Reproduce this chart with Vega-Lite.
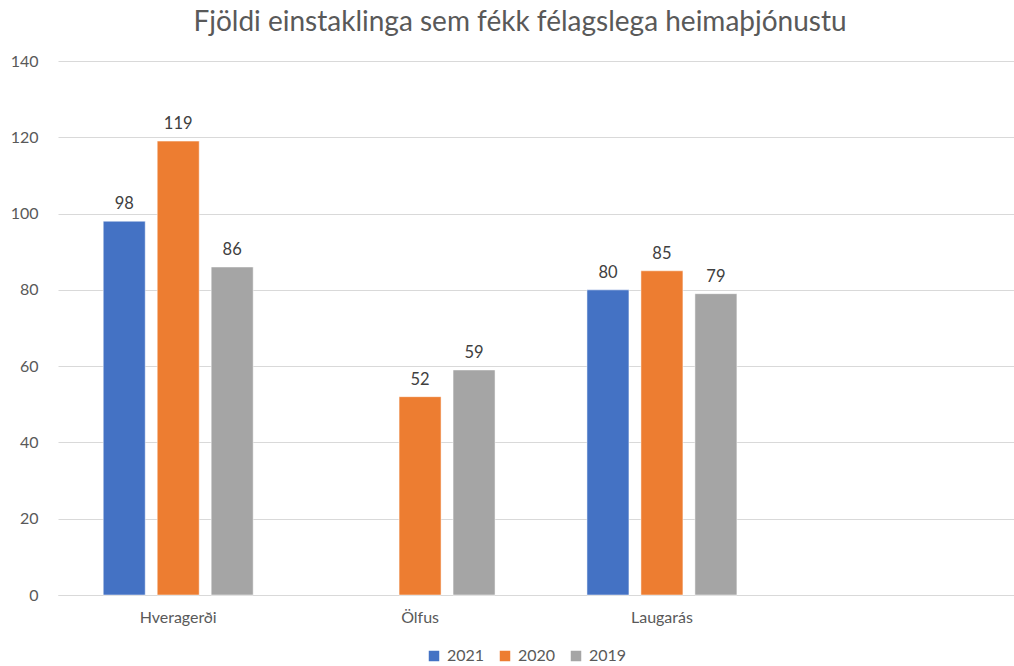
{
  "$schema": "https://vega.github.io/schema/vega-lite/v6.json",
  "autosize": "none",
  "width": 956,
  "height": 534,
  "padding": {"left": 58, "top": 61, "right": 0, "bottom": 71},
  "background": "white",
  "title": {
    "text": "Fjöldi einstaklinga sem fékk félagslega heimaþjónustu",
    "font": "Lato",
    "fontSize": 28,
    "fontWeight": "normal",
    "color": "#595959",
    "anchor": "middle",
    "dx": -16,
    "offset": 16
  },
  "data": {
    "values": [
      {"svaedi": "Hveragerði", "ar": "2021", "fjoldi": 98},
      {"svaedi": "Hveragerði", "ar": "2020", "fjoldi": 119},
      {"svaedi": "Hveragerði", "ar": "2019", "fjoldi": 86},
      {"svaedi": "Ölfus", "ar": "2020", "fjoldi": 52},
      {"svaedi": "Ölfus", "ar": "2019", "fjoldi": 59},
      {"svaedi": "Laugarás", "ar": "2021", "fjoldi": 80},
      {"svaedi": "Laugarás", "ar": "2020", "fjoldi": 85},
      {"svaedi": "Laugarás", "ar": "2019", "fjoldi": 79}
    ]
  },
  "encoding": {
    "x": {
      "field": "svaedi",
      "type": "nominal",
      "scale": {"domain": ["Hveragerði", "Ölfus", "Laugarás", " "], "range": [0, 966], "paddingInner": 0.38, "paddingOuter": 0.187},
      "axis": {
        "title": null,
        "labelAngle": 0,
        "labelFont": "Lato",
        "labelFontSize": 16,
        "labelColor": "#595959",
        "labelPadding": 14,
        "ticks": false,
        "domainColor": "#d9d9d9",
        "domainWidth": 1
      }
    },
    "xOffset": {
      "field": "ar",
      "type": "nominal",
      "scale": {"domain": ["2021", "2020", "2019"], "paddingInner": 0.222, "paddingOuter": 0}
    },
    "y": {
      "field": "fjoldi",
      "type": "quantitative",
      "scale": {"domain": [0, 140], "nice": false},
      "axis": {
        "title": null,
        "values": [0, 20, 40, 60, 80, 100, 120, 140],
        "labelFont": "Lato",
        "labelFontSize": 16,
        "labelColor": "#595959",
        "labelPadding": 20,
        "ticks": false,
        "domain": false,
        "gridColor": "#d9d9d9",
        "gridWidth": 1
      }
    }
  },
  "layer": [
    {
      "mark": {"type": "bar", "stroke": "white", "strokeWidth": 0.5},
      "encoding": {
        "color": {
          "field": "ar",
          "type": "nominal",
          "scale": {"domain": ["2021", "2020", "2019"], "range": ["#4472C4", "#ED7D31", "#A5A5A5"]},
          "legend": {
            "title": null,
            "orient": "none",
            "direction": "horizontal",
            "legendX": 368,
            "legendY": 587,
            "symbolType": "square",
            "symbolSize": 110,
            "symbolStrokeWidth": 0,
            "labelFont": "Lato",
            "labelFontSize": 16,
            "labelColor": "#595959",
            "columnPadding": 12,
            "labelOffset": 5
          }
        }
      }
    },
    {
      "mark": {"type": "text", "baseline": "bottom", "dy": -9, "font": "Lato", "fontSize": 16.5, "color": "#404040"},
      "encoding": {
        "text": {"field": "fjoldi", "type": "quantitative"}
      }
    }
  ],
  "config": {
    "view": {"stroke": null}
  }
}
